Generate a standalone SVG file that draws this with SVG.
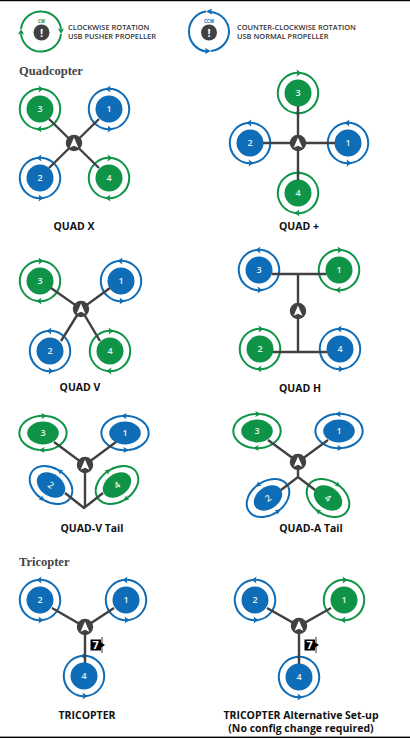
<svg xmlns="http://www.w3.org/2000/svg" width="410" height="739" viewBox="0 0 410 739">
<style>
.bg{fill:#fff}
.edge{fill:#000}
.g{color:#0f9447}
.b{color:#0f6cb6}
.ring{fill:none;stroke:currentColor;stroke-width:2;vector-effect:non-scaling-stroke}
.disc,.tip{fill:currentColor}
.n{font:600 9px "Open Sans","Noto Sans",sans-serif;fill:#e8f3ec;text-anchor:middle}
.arm{fill:none;stroke:#414042;stroke-width:2.4;stroke-linejoin:miter}
.hub{fill:#414042}
.dir{fill:#fff}
.lab{font:700 10.5px "Open Sans","Noto Sans",sans-serif;fill:#111;text-anchor:middle}
.leg{font:600 7.45px "Open Sans","Noto Sans",sans-serif;fill:#333}
.head{font:700 12.5px "Liberation Serif",serif;fill:#444}
.mini{font:700 4.5px "Open Sans",sans-serif;text-anchor:middle;fill:currentColor}
.excl{font:700 11px "Open Sans",sans-serif;fill:#fff;text-anchor:middle}
.srv{font:700 11px "Open Sans",sans-serif;fill:#fff;text-anchor:middle}
</style>
<defs>
<g id="cw">
<circle class="disc" r="13.5"/>
<path class="ring" d="M3,-20A20,20 0 0 1 -3,20"/>
<path class="ring" d="M-3,20A20,20 0 0 1 3,-20"/>
<path class="tip" d="M3.5,-20L-1.5,-23.4L-0.5,-20L-1.5,-16.6Z"/>
<path class="tip" d="M-3.5,20L1.5,23.4L0.5,20L1.5,16.6Z"/>
</g>
<g id="ccw">
<circle class="disc" r="13.5"/>
<path class="ring" d="M-3,-20A20,20 0 0 0 3,20"/>
<path class="ring" d="M3,20A20,20 0 0 0 -3,-20"/>
<path class="tip" d="M-3.5,-20L1.5,-23.4L0.5,-20L1.5,-16.6Z"/>
<path class="tip" d="M3.5,20L-1.5,23.4L-0.5,20L-1.5,16.6Z"/>
</g>
<g id="hubmark">
<circle class="hub" r="8.2"/>
<path class="dir" d="M0,-5.5L4.4,4.8L0,2.8L-4.4,4.8Z"/>
</g>
<g id="servo">
<rect x="-5.5" y="-5.5" width="10.5" height="11" fill="#000"/>
<path d="M6,-8V8" stroke="#000" stroke-width="0.8"/>
<path d="M5,-2.5L9,0L5,2.5Z" fill="#000"/>
<text class="srv" x="-0.3" y="4">7</text>
</g>
</defs>
<rect class="bg" width="410" height="739"/>
<rect class="edge" width="410" height="1.2"/>
<rect class="edge" y="736.6" width="410" height="1.4"/>

<g id="legend-cw" class="g">
<path class="ring" d="M42,11.5A20,20 0 0 1 61,29M61,34A20,20 0 0 1 42,51.5A20,20 0 0 1 21,34M21,29A20,20 0 0 1 42,11.5"/>
<path class="tip" d="M61,34L58,28.5L61,29.5L64,28.5Z"/>
<path class="tip" d="M21,29L18,34.5L21,33.5L24,34.5Z"/>
<circle class="hub" cx="41.5" cy="32.5" r="8"/>
<text class="excl" x="41.5" y="36.5">!</text>
<text class="mini" x="41.5" y="22.5">CW</text>
<text class="leg" x="68" y="30">CLOCKWISE ROTATION</text>
<text class="leg" x="68" y="39">USB PUSHER PROPELLER</text>
</g>
<g id="legend-ccw" class="b">
<path class="ring" d="M206,11.5A20,20 0 0 0 189,31A20,20 0 0 0 206,51.5M211,51A20,20 0 0 0 229,31A20,20 0 0 0 211,12"/>
<path class="tip" d="M206,11.5L212,8.5L211,11.5L212,14.5Z"/>
<path class="tip" d="M211,51L205,48L206,51L205,54Z"/>
<circle class="hub" cx="209" cy="32.5" r="8"/>
<text class="excl" x="209" y="36.5">!</text>
<text class="mini" x="209" y="22.5">CCW</text>
<text class="leg" x="237" y="30">COUNTER-CLOCKWISE ROTATION</text>
<text class="leg" x="237" y="39">USB NORMAL PROPELLER</text>
</g>
<text id="heading-quad" class="head" x="19" y="75">Quadcopter</text>
<text id="heading-tri" class="head" x="19" y="566">Tricopter</text>

<g id="qx-3" class="g" transform="translate(40,109)"><use href="#cw"/><text class="n" y="3.4">3</text></g>
<g id="qx-1" class="b" transform="translate(109,109)"><use href="#ccw"/><text class="n" y="3.4">1</text></g>
<g id="qx-2" class="b" transform="translate(40,178)"><use href="#ccw"/><text class="n" y="3.4">2</text></g>
<g id="qx-4" class="g" transform="translate(109,178)"><use href="#cw"/><text class="n" y="3.4">4</text></g>

<g id="qp-3" class="g" transform="translate(298,93)"><use href="#cw"/><text class="n" y="3.4">3</text></g>
<g id="qp-2" class="b" transform="translate(250,143)"><use href="#ccw"/><text class="n" y="3.4">2</text></g>
<g id="qp-1" class="b" transform="translate(348,143)"><use href="#ccw"/><text class="n" y="3.4">1</text></g>
<g id="qp-4" class="g" transform="translate(298,193)"><use href="#cw"/><text class="n" y="3.4">4</text></g>

<g id="qv-3" class="g" transform="translate(40,281)"><use href="#cw"/><text class="n" y="3.4">3</text></g>
<g id="qv-1" class="b" transform="translate(121,281)"><use href="#ccw"/><text class="n" y="3.4">1</text></g>
<g id="qv-2" class="b" transform="translate(50,351)"><use href="#ccw"/><text class="n" y="3.4">2</text></g>
<g id="qv-4" class="g" transform="translate(110,351)"><use href="#cw"/><text class="n" y="3.4">4</text></g>

<g id="qh-3" class="b" transform="translate(259,270)"><use href="#ccw"/><text class="n" y="3.4">3</text></g>
<g id="qh-1" class="g" transform="translate(339,270)"><use href="#cw"/><text class="n" y="3.4">1</text></g>
<g id="qh-2" class="g" transform="translate(260,349)"><use href="#cw"/><text class="n" y="3.4">2</text></g>
<g id="qh-4" class="b" transform="translate(340,349)"><use href="#ccw"/><text class="n" y="3.4">4</text></g>

<g id="vt-3" class="g" transform="translate(43,433)"><use href="#cw" transform="scale(1.17,0.85)"/><text class="n" y="3.4">3</text></g>
<g id="vt-1" class="b" transform="translate(125,433)"><use href="#ccw" transform="scale(1.17,0.85)"/><text class="n" y="3.4">1</text></g>
<g id="vt-2" class="b" transform="translate(51,485) rotate(35)"><use href="#ccw" transform="scale(1.15,0.82)"/><text class="n" y="3.4">2</text></g>
<g id="vt-4" class="g" transform="translate(117,485) rotate(-35)"><use href="#cw" transform="scale(1.15,0.82)"/><text class="n" y="3.4">4</text></g>

<g id="at-3" class="g" transform="translate(257,431)"><use href="#cw" transform="scale(1.17,0.85)"/><text class="n" y="3.4">3</text></g>
<g id="at-1" class="b" transform="translate(339,431)"><use href="#ccw" transform="scale(1.17,0.85)"/><text class="n" y="3.4">1</text></g>
<g id="at-2" class="b" transform="translate(268,498) rotate(-35)"><use href="#ccw" transform="scale(1.15,0.82)"/><text class="n" y="3.4">2</text></g>
<g id="at-4" class="g" transform="translate(328,498) rotate(35)"><use href="#cw" transform="scale(1.15,0.82)"/><text class="n" y="3.4">4</text></g>

<g id="t1-2" class="b" transform="translate(40,600)"><use href="#ccw"/><text class="n" y="3.4">2</text></g>
<g id="t1-1" class="b" transform="translate(126,600)"><use href="#ccw"/><text class="n" y="3.4">1</text></g>
<g id="t1-4" class="b" transform="translate(84,676)"><use href="#ccw"/><text class="n" y="3.4">4</text></g>

<g id="t2-2" class="b" transform="translate(255,600)"><use href="#ccw"/><text class="n" y="3.4">2</text></g>
<g id="t2-1" class="g" transform="translate(344,600)"><use href="#cw"/><text class="n" y="3.4">1</text></g>
<g id="t2-4" class="b" transform="translate(299,677)"><use href="#ccw"/><text class="n" y="3.4">4</text></g>

<g id="connectors">
<path class="arm" d="M49,119L99,168M99,119L49,168"/>
<path class="arm" d="M298,106V180M263,143H335"/>
<path class="arm" d="M51,288L81,309L61,341M110,288L81,309L100,341"/>
<path class="arm" d="M272,274H326M298,274V352M273,352H327"/>
<path class="arm" d="M54,442L85,465L116,442M85,465V508M65,493L84,508L103,493"/>
<path class="arm" d="M268,440L298,462L328,440M298,462V477M281,490L298,477L315,490"/>
<path class="arm" d="M52,608L85,627L114,608M85,627V663"/>
<path class="arm" d="M267,608L299,626L331,608M299,626V664"/>
</g>

<use id="hub-qx" href="#hubmark" x="74" y="143"/>
<use id="hub-qp" href="#hubmark" x="298" y="143"/>
<use id="hub-qv" href="#hubmark" x="81" y="309"/>
<use id="hub-qh" href="#hubmark" x="298" y="311"/>
<use id="hub-vt" href="#hubmark" x="85" y="465"/>
<use id="hub-at" href="#hubmark" x="298" y="462"/>
<use id="hub-t1" href="#hubmark" x="85" y="627"/>
<use id="hub-t2" href="#hubmark" x="299" y="626"/>
<use id="servo-t1" href="#servo" x="96" y="645"/>
<use id="servo-t2" href="#servo" x="310" y="645"/>

<text class="lab" x="74" y="230">QUAD X</text>
<text class="lab" x="299" y="230">QUAD +</text>
<text class="lab" x="80" y="391">QUAD V</text>
<text class="lab" x="300" y="392">QUAD H</text>
<text class="lab" x="92" y="532">QUAD-V Tail</text>
<text class="lab" x="311" y="532">QUAD-A Tail</text>
<text class="lab" x="87" y="719">TRICOPTER</text>
<text class="lab" x="301" y="719">TRICOPTER Alternative Set-up</text>
<text class="lab" x="301" y="732">(No config change required)</text>
</svg>
